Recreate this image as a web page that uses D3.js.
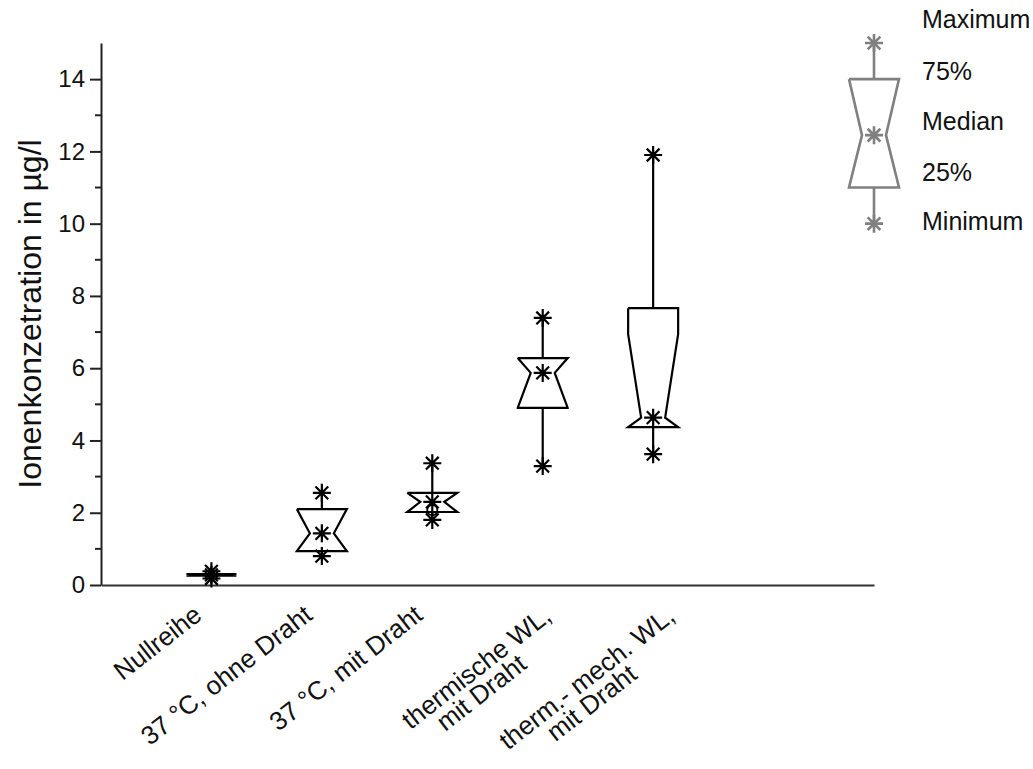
<!DOCTYPE html>
<html>
<head>
<meta charset="utf-8">
<script src="https://cdn.jsdelivr.net/npm/d3@7"></script>
<style>
  body { margin: 0; background: #fff; }
  text { font-family: "Liberation Sans", Arial, sans-serif; fill: #111; }
</style>
</head>
<body>
<div id="chart"></div>
<script>
// box plot values (µg/l)
var categories = ["Nullreihe", "37 °C, ohne Draht", "37 °C, mit Draht", "thermische WL,|mit Draht", "therm.- mech. WL,|mit Draht"];
var minVals = [0.18, 0.80, 1.80, 3.29, 3.62];
var q1Vals  = [0.26, 0.94, 2.02, 4.90, 4.37];
var medVals = [0.28, 1.43, 2.30, 5.87, 4.63];
var q3Vals  = [0.30, 2.10, 2.55, 6.28, 7.66];
var maxVals = [0.38, 2.55, 3.37, 7.39, 11.90];
var meanVals = [null, null, 2.07, null, null];
var sampleN = 5;

var yTicks = [0, 2, 4, 6, 8, 10, 12, 14];
var yMinor = [1, 3, 5, 7, 9, 11, 13];

// legend sample box
var legendLabels = ["Maximum", "75%", "Median", "25%", "Minimum"];
var legendVals = [15, 14, 12.45, 11, 10];   // max, q3, median, q1, min
var legendPos = 7;

var W = 1033, H = 769;
var svg = d3.select('#chart').append('svg').attr('width', W).attr('height', H);

var x = d3.scaleLinear().domain([0, 7]).range([101, 874]);
var y = d3.scaleLinear().domain([0, 15]).range([585, 43]);

var boxW = 25, notchW = 12;
var ang = 38, rad = ang * Math.PI / 180;

var line = d3.line()
    .x(function(p){ return x(p[0]) + p[1]; })
    .y(function(p){ return y(p[2]); });

var star = function(r){
    var d = r * Math.SQRT1_2;
    return "M0," + (-r) + "V" + r + "M" + (-r) + ",0H" + r +
        "M" + (-d) + "," + (-d) + "L" + d + "," + d +
        "M" + (-d) + "," + d + "L" + d + "," + (-d);
};

// notched box outline, notch clamped to the box
var boxPoints = function(pos, q1, med, q3){
    var c = 1.57 * (q3 - q1) / Math.sqrt(sampleN);
    var nHi = Math.min(q3, med + c), nLo = Math.max(q1, med - c);
    return [[pos, -boxW, q3], [pos, boxW, q3], [pos, boxW, nHi], [pos, notchW, med],
            [pos, boxW, nLo], [pos, boxW, q1], [pos, -boxW, q1], [pos, -boxW, nLo],
            [pos, -notchW, med], [pos, -boxW, nHi], [pos, -boxW, q3]];
};

var drawBox = function(g, pos, mn, q1, med, q3, mx, color){
    g.append('line').attr('x1', x(pos)).attr('x2', x(pos))
        .attr('y1', y(mx)).attr('y2', y(q3));
    g.append('line').attr('x1', x(pos)).attr('x2', x(pos))
        .attr('y1', y(q1)).attr('y2', y(mn));
    g.append('path').attr('d', line(boxPoints(pos, q1, med, q3))).attr('fill', 'none');
    [mx, med, mn].forEach(function(v){
        g.append('path').attr('d', star(9))
            .attr('transform', 'translate(' + x(pos) + ',' + y(v) + ')');
    });
    g.attr('stroke', color).attr('stroke-width', 2.2).attr('stroke-linejoin', 'miter');
};

// axes
var yAxis = d3.axisLeft(y).tickValues(yTicks).tickSize(11).tickSizeOuter(0).tickPadding(5);
var gy = svg.append('g').attr('transform', 'translate(101,0)').call(yAxis);
gy.selectAll('text').style('font-size', '24px');
gy.selectAll('line, path').attr('stroke', '#222').attr('stroke-width', 2);
gy.selectAll('.minor').data(yMinor).enter().append('line')
    .attr('x1', -6).attr('x2', 0)
    .attr('y1', function(d){ return y(d); }).attr('y2', function(d){ return y(d); })
    .attr('stroke', '#222').attr('stroke-width', 2);

var gx = svg.append('g').attr('transform', 'translate(0,585)')
    .call(d3.axisBottom(x).tickValues([]).tickSizeOuter(0));
gx.select('path').attr('stroke', '#333').attr('stroke-width', 2.2);

svg.append('text')
    .attr('transform', 'translate(41,' + y(7.5) + ') rotate(-90)')
    .attr('text-anchor', 'middle')
    .style('font-size', '32px')
    .text('Ionenkonzetration in µg/l');

// boxes
categories.forEach(function(c, i){
    drawBox(svg.append('g'), i + 1, minVals[i], q1Vals[i], medVals[i], q3Vals[i], maxVals[i], '#000');
});

svg.selectAll('.mean').data(meanVals.filter(function(d){ return d != null; }))
    .enter().append('circle')
    .attr('cx', function(d){ return x(meanVals.indexOf(d) + 1); })
    .attr('cy', function(d){ return y(d); })
    .attr('r', 5).attr('fill', 'none').attr('stroke', '#000').attr('stroke-width', 1.8);

// rotated category labels
// single lines end below the box, two-line labels: each line centred, lines stacked downwards
categories.forEach(function(c, i){
    var lines = c.split('|');
    var cx = x(i + 1);
    if (lines.length == 1) {
        svg.append('text')
            .attr('transform', 'translate(' + (cx - 8) + ',618) rotate(' + (-ang) + ')')
            .attr('text-anchor', 'end').style('font-size', '26px')
            .text(c);
        return;
    }
    var t0 = null;
    lines.forEach(function(l, k){
        var t = svg.append('text').attr('text-anchor', 'middle').style('font-size', '26px').text(l);
        if (k == 0) t0 = t.node().getComputedTextLength();
        var cy = 619 + Math.sin(rad) * t0 / 2 + k * 25;
        t.attr('transform', 'translate(' + (cx - 61 + k * 5) + ',' + cy + ') rotate(' + (-ang) + ')');
    });
});

// legend
var lg = svg.append('g');
drawBox(lg, legendPos, legendVals[4], legendVals[3], legendVals[2], legendVals[1], legendVals[0], '#808080');
lg.attr('stroke-width', 2.6);

var legendY = [28, 80, 130, 181, 230];
svg.selectAll('.leg').data(legendLabels).enter().append('text')
    .attr('x', 922).attr('y', function(d, i){ return legendY[i]; })
    .style('font-size', '25px')
    .text(function(d){ return d; });
</script>
</body>
</html>
